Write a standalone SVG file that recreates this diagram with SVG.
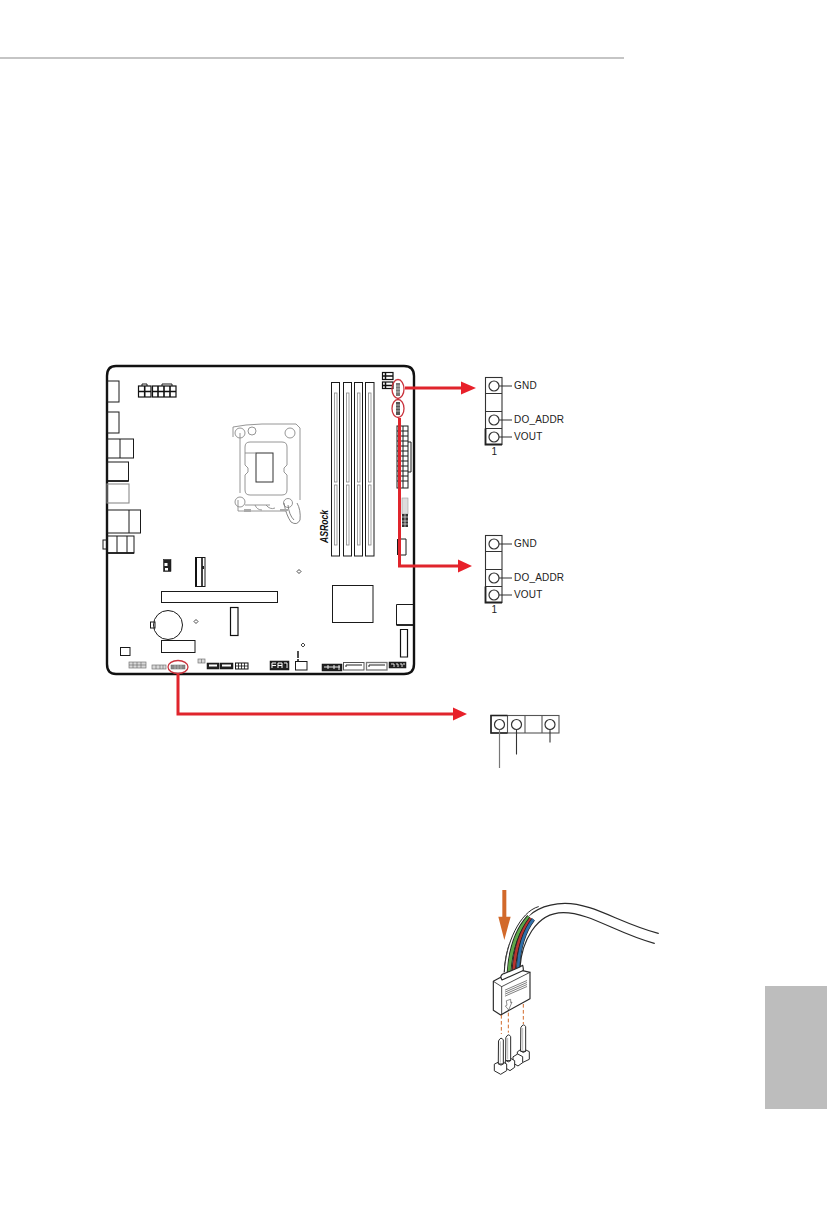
<svg xmlns="http://www.w3.org/2000/svg" width="828" height="1225" viewBox="0 0 828 1225">
<style>
.b{fill:none;stroke:#1a1a1a;stroke-width:1}
.t{fill:none;stroke:#111;stroke-width:1.6}
.s{fill:none;stroke:#8a8a8a;stroke-width:.9}
.g{fill:#d8d8d8;stroke:#777;stroke-width:.7}
.k{fill:#222;stroke:#111;stroke-width:.5}
.wg{fill:none;stroke:#888;stroke-width:.8}
.red{fill:none;stroke:#e0252c;stroke-width:3}
.ring{fill:none;stroke:#c9333d;stroke-width:1.3}
.head{fill:#e8202a}
.lbl{font-family:"Liberation Sans",Arial,sans-serif;font-size:10px;letter-spacing:.2px;fill:#222}
.pin{fill:#fff;stroke:#333;stroke-width:1.2}
.pb{fill:none;stroke:#333;stroke-width:1.1}
.l{stroke:#333;stroke-width:1.1;fill:none}
.c{fill:#fff;stroke:#2a2a2a;stroke-width:3.5;stroke-linejoin:round;stroke-linecap:round}
.o{fill:none;stroke:#2a2a2a;stroke-width:3.5;stroke-linecap:round}
.d{fill:none;stroke:#d2692a;stroke-width:3;stroke-dasharray:11 7}
</style>
<rect id="top-rule" x="0" y="57.5" width="624" height="1" fill="#8c8c8c"/>
<rect id="side-tab" x="765" y="986" width="62" height="123" fill="#bdbdbd"/>

<g id="board">
<path d="M116 366H404Q414 366 414 376V664Q414 674 404 674H116Q107 674 107 664V376Q107 366 116 366Z" fill="#fff" stroke="#111" stroke-width="2.400"/>
<g id="io-ports">
<rect class="b" x="107" y="381" width="12" height="21"/>
<rect class="b" x="107" y="412" width="12" height="21"/>
<rect class="b" x="107" y="439" width="26.500" height="19"/><path class="b" d="M120 439V458"/>
<rect class="b" x="107" y="462" width="21.500" height="19"/><path d="M107 481H128.500" stroke="#111" stroke-width="1.600"/>
<rect class="s" x="107" y="484" width="22" height="19" style="stroke-width:1.100"/>
<rect class="b" x="107" y="510" width="33.500" height="23"/><path class="b" d="M129 510V533"/>
<rect class="b" x="107" y="536" width="27" height="17"/><path d="M107 553H134" stroke="#111" stroke-width="1.600"/><path class="b" d="M117 536V553M127 536V553"/>
<rect class="b" x="103" y="540" width="4" height="9"/>
</g>
<g id="power-connectors">
<rect class="t" x="138.500" y="386" width="12.500" height="11" style="stroke-width:1.200"/><path class="t" d="M138.500 391.500H151M144.700 386V397"/><path class="b" d="M142 386V384H147V386"/>
<rect class="t" x="152.500" y="386" width="23.500" height="11" style="stroke-width:1.200"/><path class="t" d="M152.500 391.500H176M158 386V397M164 386V397M170 386V397"/><path class="b" d="M162 386V384H172V386"/>
</g>
<g id="cpu-socket">
<path class="s" d="M233 427L246 425L262 424H296L300 428V500M240 433V493M233 427V437M238 500V511H286"/>
<circle class="s" cx="240" cy="433" r="5"/><circle class="s" cx="252" cy="431" r="4"/><circle class="s" cx="290" cy="433" r="5"/><circle class="s" cx="240" cy="502" r="5"/><circle class="s" cx="288" cy="503" r="4.500"/>
<path class="s" d="M250 442H282Q287 442 287 447V465L284 468V472L287 475V490Q287 495 282 495H250Q245 495 245 490V475L248 472V468L245 465V447Q245 442 250 442Z"/>
<rect x="256" y="453" width="17" height="29" fill="none" stroke="#333" stroke-width="1"/>
<path class="s" d="M245 453H256M245 505H270M255 505Q257 510 262 510M266 505Q270 510 275 508"/>
<path d="M284 503Q286 515 291 522Q297 526 300 520Q301 510 297 503M288 505Q289 515 294 520" fill="none" stroke="#777" stroke-width=".9"/>
<rect x="244" y="509" width="7" height="3" fill="#aaa"/><rect x="280" y="509" width="8" height="2" fill="#aaa"/>
</g>
<g id="dimm-slots">
<rect class="b" x="331.500" y="382.500" width="8" height="173.500"/><rect class="wg" x="334.500" y="393" width="2.500" height="89"/><rect class="wg" x="334.500" y="485" width="2.500" height="60"/>
<rect class="b" x="343.500" y="382.500" width="8" height="173.500"/><rect class="wg" x="346.500" y="393" width="2.500" height="89"/><rect class="wg" x="346.500" y="485" width="2.500" height="60"/>
<rect class="b" x="354.500" y="382.500" width="8" height="173.500"/><rect class="wg" x="357.500" y="393" width="2.500" height="89"/><rect class="wg" x="357.500" y="485" width="2.500" height="60"/>
<rect class="b" x="365.500" y="382.500" width="8.500" height="173.500"/><rect class="wg" x="368.500" y="393" width="2.500" height="89"/><rect class="wg" x="368.500" y="485" width="2.500" height="60"/>
</g>
<text id="logo" transform="translate(328 543) rotate(-90)" font-family="Liberation Sans,Arial,sans-serif" font-size="10" font-weight="700" font-style="italic" fill="#111" textLength="33" lengthAdjust="spacingAndGlyphs">ASRock</text>
<g id="right-headers">
<rect x="382.500" y="372.500" width="10.500" height="7" fill="#fff" stroke="#111" stroke-width="1.200"/><path stroke="#111" stroke-width="1.500" d="M382.500 376H393M385.500 372.500V379.500"/>
<rect x="382.500" y="382" width="10.500" height="6.500" fill="#fff" stroke="#111" stroke-width="1.200"/><path stroke="#111" stroke-width="1.500" d="M382.500 385.500H393M385.500 382V388.500"/>
<rect x="396" y="383" width="4" height="13" fill="#777"/><rect x="396" y="402" width="4" height="13" fill="#555"/>
<path stroke="#ddd" stroke-width=".7" d="M396 386H400M396 389H400M396 392H400M396 405H400M396 408H400M396 411H400"/>
<rect class="b" x="397" y="426" width="11" height="62"/><path class="b" d="M397 431H408M397 436H408M397 441H408M397 446H408M397 451H408M397 456H408M397 461H408M397 466H408M397 471H408M397 476H408M397 481H408M403 426V488"/>
<path class="b" d="M408 442H411V472H408"/>
<rect x="402" y="498" width="6" height="16" fill="#ddd" stroke="#999" stroke-width=".6"/><rect x="402" y="514" width="6" height="13" fill="#333"/><path stroke="#fff" stroke-width=".6" d="M405 514V527M402 517H408M402 521H408M402 524H408"/>
<path class="b" d="M406 539H398V555H406ZM397.500 539V555"/>
</g>
<g id="chips-and-slots">
<rect class="b" x="332.500" y="585.500" width="40.500" height="37"/>
<path class="b" d="M413 604.500H396.500V625H413"/><path d="M396.500 625H413" stroke="#111" stroke-width="1.600"/>
<path class="t" style="stroke-width:1.200" d="M400.500 629.500H407.500V657H400.500Z"/>
<rect class="b" x="161.500" y="591.500" width="116" height="11"/>
<circle class="b" cx="168" cy="625" r="14.500"/>
<rect class="b" x="150.500" y="622" width="4.500" height="6"/>
<rect class="b" x="161.500" y="640.500" width="33.500" height="12"/>
<rect class="b" x="120.500" y="647.500" width="9.500" height="8"/>
<rect class="b" x="195.500" y="557.500" width="9.500" height="29"/><path d="M196 557.500V586" stroke="#111" stroke-width="2"/><path class="t" d="M202 557.500V586"/><rect x="202" y="566" width="2" height="3" fill="#222"/>
<rect class="k" x="163.500" y="559.500" width="7.500" height="12"/><rect x="164.500" y="563" width="3" height="3" fill="#fff"/><rect x="165" y="568" width="3" height="2.500" fill="#fff"/>
<rect class="t" style="stroke-width:1.200" x="230.500" y="607.500" width="7.500" height="28"/>
</g>
<g id="diamonds">
<path fill="none" stroke="#333" stroke-width=".9" d="M196 619.500L198 621.500L196 623.500L194 621.500Z"/>
<path fill="none" stroke="#333" stroke-width=".9" d="M299 569.500L301 571.500L299 573.500L297 571.500Z"/>
<path fill="none" stroke="#333" stroke-width=".9" d="M303 643L305 645L303 647L301 645Z"/>
</g>
<g id="bottom-headers">
<rect class="g" x="129" y="662" width="17" height="6"/><path stroke="#666" stroke-width=".6" d="M133 662V668M137 662V668M141 662V668M129 665H146"/>
<rect class="g" x="152" y="665" width="14" height="4"/><path stroke="#666" stroke-width=".6" d="M156 665V669M160 665V669M163 665V669"/>
<rect x="171" y="665" width="14" height="4" fill="#888" stroke="#666" stroke-width=".5"/><path stroke="#ccc" stroke-width=".6" d="M175 665V669M178 665V669M181 665V669"/>
<rect class="g" x="198" y="659" width="7" height="4"/><path stroke="#666" stroke-width=".6" d="M201.500 659V663"/>
<rect class="k" x="207" y="663" width="12" height="6"/><rect x="209" y="664.500" width="8" height="2" fill="#fff"/>
<rect class="k" x="220" y="663" width="13" height="6"/><rect x="222" y="664.500" width="9" height="2" fill="#fff"/>
<rect x="235.500" y="663" width="12.500" height="6" fill="#fff" stroke="#111"/><path stroke="#111" stroke-width=".8" d="M238.500 663V669M241.500 663V669M244.500 663V669M235.500 666H248"/>
<rect class="k" x="270" y="661" width="19" height="9"/><path stroke="#fff" stroke-width="1" d="M272 663H276M272 663V668M272 665.500H276M278 663H282M278 663V668M282 663V668M278 665.500H282M284 663H287V668"/>
<rect class="b" x="295.500" y="661.500" width="11.500" height="8.500"/>
<path d="M298 651V658M298 659V661" stroke="#222" stroke-width="1.600"/>
<rect class="k" x="322" y="664" width="20" height="7"/><path stroke="#fff" stroke-width=".9" d="M324 667H340M328 665V669M334 665V669M339 665V670"/>
<rect x="343.500" y="662.500" width="20.500" height="7.500" fill="#fff" stroke="#555" stroke-width="1"/><path d="M346 667V665H362" fill="none" stroke="#222"/>
<rect x="366.500" y="662.500" width="20.500" height="7.500" fill="#fff" stroke="#777" stroke-width="1.300"/><path d="M369 667V665H385" fill="none" stroke="#222"/>
<rect class="k" x="389" y="662" width="17" height="6"/><path stroke="#fff" stroke-width=".9" d="M391 664H394V667M396 664H398V667M400 664H402V667M403 664H405"/>
</g>
</g>

<g id="connectors">
<path class="red" d="M405 388H462"/>
<path class="head" d="M461 381.500L476 388L461 394.500Z"/>
<path class="red" d="M399.500 418V566H460"/>
<path class="head" d="M458 559.500L472 566L458 572.500Z"/>
<path class="red" d="M178 674V714H455"/>
<path class="head" d="M453 707.500L467 714L453 720.500Z"/>
<ellipse class="ring" cx="398" cy="389" rx="6" ry="9.500"/>
<ellipse class="ring" cx="398" cy="408.500" rx="6" ry="9"/>
<ellipse class="ring" cx="178" cy="667" rx="10" ry="6.500"/>
</g>

<g id="header-top">
<rect class="pb" x="485.500" y="377.500" width="16.500" height="67"/>
<path class="pb" d="M485.500 393.500H502M485.500 411.500H502M485.500 428.500H502"/>
<path d="M485.500 428.500V444.500H502" fill="none" stroke="#222" stroke-width="1.800"/>
<circle class="pin" cx="494" cy="386" r="5"/><circle class="pin" cx="494" cy="420" r="5"/><circle class="pin" cx="494" cy="437" r="5"/>
<path class="l" d="M499 386H512M499 420H512M499 437H512"/>
<text class="lbl" x="514" y="388.500">GND</text>
<text class="lbl" x="514" y="422.500">DO_ADDR</text>
<text class="lbl" x="514" y="440">VOUT</text>
<text class="lbl" x="491.500" y="455" style="letter-spacing:0">1</text>
</g>
<g id="header-mid">
<rect class="pb" x="485.500" y="535.500" width="16.500" height="67"/>
<path class="pb" d="M485.500 551.500H502M485.500 569.500H502M485.500 586.500H502"/>
<path d="M485.500 586.500V602.500H502" fill="none" stroke="#222" stroke-width="1.800"/>
<circle class="pin" cx="494" cy="544" r="5"/><circle class="pin" cx="494" cy="578" r="5"/><circle class="pin" cx="494" cy="595" r="5"/>
<path class="l" d="M499 544H512M499 578H512M499 595H512"/>
<text class="lbl" x="514" y="546.500">GND</text>
<text class="lbl" x="514" y="580.500">DO_ADDR</text>
<text class="lbl" x="514" y="598">VOUT</text>
<text class="lbl" x="491.500" y="613" style="letter-spacing:0">1</text>
</g>
<g id="header-bottom">
<rect class="pb" x="491" y="715.500" width="68" height="17.500" style="stroke:#555"/>
<path class="pb" d="M507.500 715.500V733M525 715.500V733M542 715.500V733" style="stroke:#555"/>
<path d="M507.500 715.500H491V733H507.500" fill="none" stroke="#222" stroke-width="1.500"/>
<circle class="pin" cx="499.500" cy="724.500" r="5"/><circle class="pin" cx="516.500" cy="724.500" r="5"/><circle class="pin" cx="550" cy="724.500" r="5"/>
<path d="M499.500 729.500V768" stroke="#777" stroke-width="1.200"/>
<path class="l" d="M516.500 729.500V754.500M550 729.500V742.500"/>
</g>

<g id="cable-illustration" transform="translate(470 880) scale(.3333)">
<path d="M103 280C105 190 150 72 285 70C370 70 450 130 565 160" class="o"/>
<path d="M150 262C155 190 195 98 280 98C360 98 440 160 553 190" class="o"/>
<path d="M103 280C105 190 150 85 200 82L175 110C150 140 130 200 128 280Z" fill="#fff"/>
<path d="M103 275C107 190 150 95 205 80" class="o" style="stroke-width:3"/>
<path d="M117 278C122 200 145 145 177 110" fill="none" stroke="#222" stroke-width="14"/><path d="M117 278C122 200 145 145 177 110" fill="none" stroke="#5ea84a" stroke-width="9"/>
<path d="M131 275C135 205 155 150 183 115" fill="none" stroke="#222" stroke-width="13"/><path d="M131 275C135 205 155 150 183 115" fill="none" stroke="#b8342f" stroke-width="8"/>
<path d="M144 268C147 205 165 150 190 118" fill="none" stroke="#222" stroke-width="12"/><path d="M144 268C147 205 165 150 190 118" fill="none" stroke="#2f6fa9" stroke-width="8"/>
<path d="M92 292Q94 281 105 280L148 262L158 256Q162 268 158 280L110 305Q94 312 92 292Z" class="c"/>
<path d="M70 304L92 292L96 300L158 272L180 277V356L92 405L70 391Z" class="c"/>
<path d="M70 304L95 320L180 277M95 320V405" class="o" style="stroke-width:2.500"/>
<path d="M106 330L170 302M106 336L170 308M106 342L170 314M106 348L170 320" class="o" style="stroke-width:1.800"/>
<path d="M110 362L122 358V368L126 366L116 390L106 378L110 376Z" class="c" style="stroke-width:2;stroke:#555"/>
<path class="d" d="M94 405V462M115 398V458M160 372V432"/>
<path d="M143 515L157 505L178 515V538L157 548L143 540Z" class="c" style="stroke-width:3"/>
<path d="M130 530L143 522L158 530V548L144 558L130 550Z" class="c" style="stroke-width:3"/>
<path d="M107 542L120 534L134 542V562L120 572L107 564Z" class="c" style="stroke-width:3"/>
<path d="M74 552L92 543L110 552V572L92 583L74 573Z" class="c" style="stroke-width:3"/>
<path d="M86 482Q93 468 100 480V552H86Z M108 472Q115 458 122 470V542H108Z M153 442Q160 428 167 440V514H153Z" class="c" style="stroke-width:3"/>
<path d="M91 484V548M113 474V538M158 444V510" stroke="#999" stroke-width="2"/>
<path d="M86 552Q93 560 100 552M108 542Q115 550 122 542M153 514Q160 522 167 514" class="o" style="stroke-width:3"/>
<path d="M97 30H109V110H122L103 180L85 110H97Z" fill="#d2692a"/>
</g>
</svg>
